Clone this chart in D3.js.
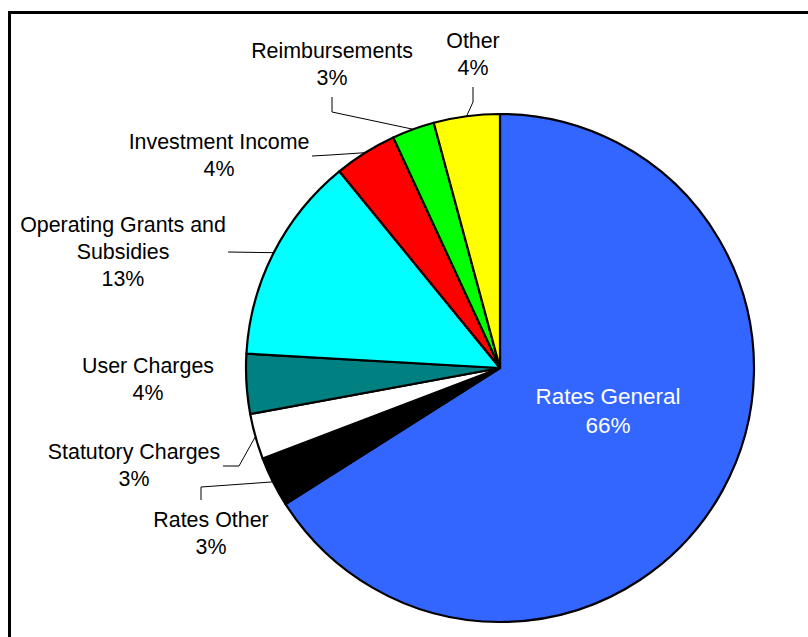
<!DOCTYPE html>
<html>
<head>
<meta charset="utf-8">
<script src="https://cdn.jsdelivr.net/npm/d3@7"></script>
<style>
	body { margin: 0; background: #fff; }
	svg text { font-family: "Liberation Sans", Arial, sans-serif; font-size: 21.4px; }
</style>
</head>
<body>
<svg id="chart" width="808" height="637"></svg>
<script>
	// Данные (по часовой стрелке от 12 часов)
	var categories = ["Rates General", "Rates Other", "Statutory Charges", "User Charges",
		"Operating Grants and Subsidies", "Investment Income", "Reimbursements", "Other"];
	var values = [66.0, 3.2, 2.9, 3.8, 13.2, 4.0, 2.7, 4.2];
	var pctLabels = ["66%", "3%", "3%", "4%", "13%", "4%", "3%", "4%"];
	var colors = ["#3366ff", "#000000", "#ffffff", "#008080", "#00ffff", "#ff0000", "#00ff00", "#ffff00"];

	// Разметка подписей: строки, центр по x, базовая линия первой строки, точки выноски
	var labelLayout = [
		{lines: ["Rates General"], x: 608, y: 404, fill: "#fff", size: 22.5, lh: 29},
		{lines: ["Rates Other"], x: 211, y: 527, leader: [[201, 500], [201, 487]]},
		{lines: ["Statutory Charges"], x: 134, y: 459, leader: [[223, 466], [239, 466]]},
		{lines: ["User Charges"], x: 148, y: 373},
		{lines: ["Operating Grants and", "Subsidies"], x: 123, y: 232, leader: [[228, 252]]},
		{lines: ["Investment Income"], x: 219, y: 149, leader: [[312, 156], [330, 155]]},
		{lines: ["Reimbursements"], x: 332, y: 58, leader: [[332, 97], [332, 112]]},
		{lines: ["Other"], x: 473, y: 48, leader: [[473, 87], [473, 102]]}
	];

	var svg = d3.select("#chart");
	var cx = 500, cy = 368, r = 254, lh = 27;

	// Рамка
	svg.append("rect")
		.attr("x", 9.5).attr("y", 12.5)
		.attr("width", 820).attr("height", 640)
		.attr("fill", "none")
		.attr("stroke", "#000")
		.attr("stroke-width", 3);

	var pie = d3.pie().sort(null).value(function(d) { return d; });
	var arcs = pie(values);
	var arc = d3.arc().innerRadius(0).outerRadius(r);

	var g = svg.append("g").attr("transform", "translate(" + cx + "," + cy + ")");

	g.selectAll("path.slice")
		.data(arcs)
		.enter().append("path")
		.attr("class", "slice")
		.attr("d", arc)
		.attr("fill", function(d, i) { return colors[i]; })
		.attr("stroke", "#000")
		.attr("stroke-width", 2.2)
		.attr("stroke-linejoin", "round");

	// Выноски
	arcs.forEach(function(a, i) {
		var L = labelLayout[i];
		if (!L.leader) return;
		var mid = (a.startAngle + a.endAngle) / 2;
		var pts = L.leader.map(function(p) { return [p[0], p[1]]; });
		pts.push([cx + r * Math.sin(mid), cy - r * Math.cos(mid)]);
		svg.append("path")
			.attr("d", d3.line()(pts))
			.attr("fill", "none")
			.attr("stroke", "#000")
			.attr("stroke-width", 1);
	});

	// Подписи
	labelLayout.forEach(function(L, i) {
		var t = svg.append("text")
			.attr("text-anchor", "middle")
			.attr("fill", L.fill || "#000");
		if (L.size) t.style("font-size", L.size + "px");
		L.lines.concat([pctLabels[i]]).forEach(function(s, k) {
			t.append("tspan")
				.attr("x", L.x)
				.attr("y", L.y + k * (L.lh || lh))
				.text(s);
		});
	});
</script>
</body>
</html>
